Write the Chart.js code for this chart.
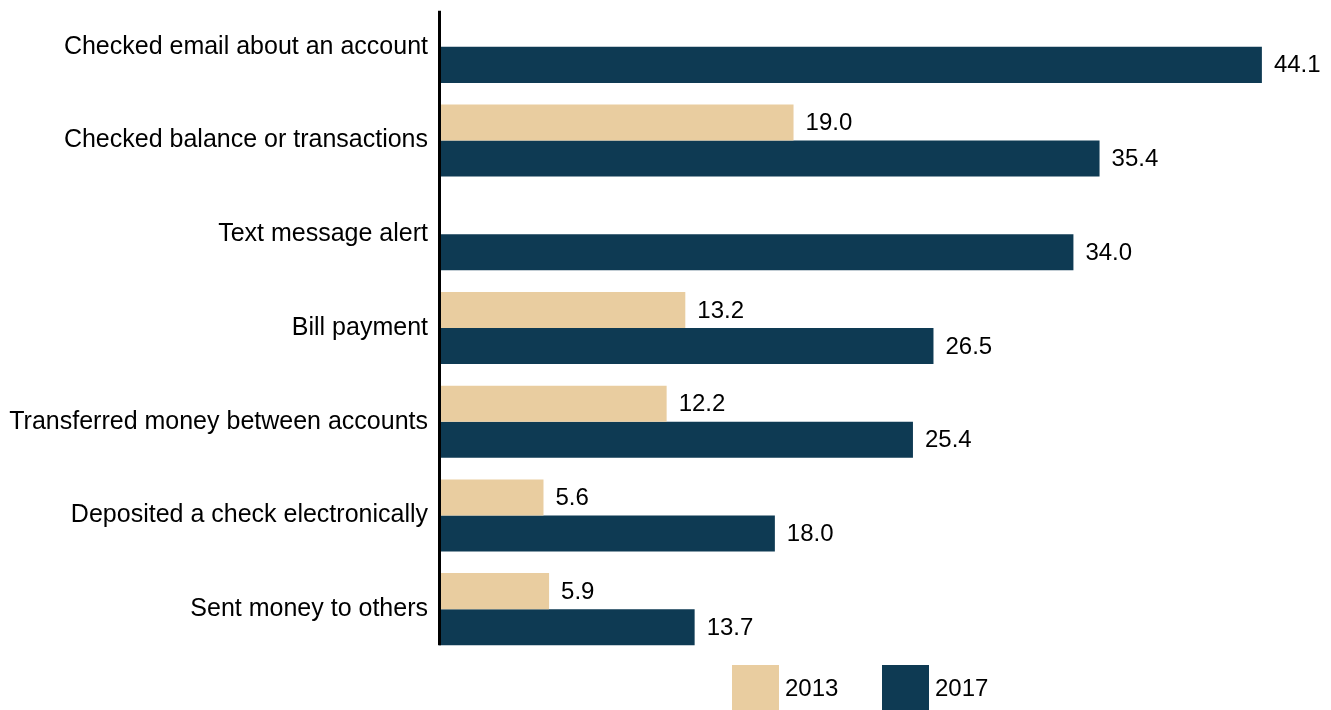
<!DOCTYPE html>
<html>
<head>
<meta charset="utf-8">
<script src="https://cdn.jsdelivr.net/npm/chart.js@4.4.0/dist/chart.umd.min.js"></script>
<style>
  html, body { margin: 0; padding: 0; background: #fff; }
  #wrap { width: 1331px; height: 710px; position: relative; }
</style>
</head>
<body>
<div id="wrap"><canvas id="grafico"></canvas></div>
<script>
// dados
const categorias = [
    'Checked email about an account',
    'Checked balance or transactions',
    'Text message alert',
    'Bill payment',
    'Transferred money between accounts',
    'Deposited a check electronically',
    'Sent money to others'
];
const anos = ['2013', '2017'];
const valores2013 = [null, 19.0, null, 13.2, 12.2, 5.6, 5.9];
const valores2017 = [44.1, 35.4, 34.0, 26.5, 25.4, 18.0, 13.7];

const FONTE = '"Liberation Sans", Arial, sans-serif';
const COR_2013 = '#E9CDA0';
const COR_2017 = '#0E3A53';

// rótulos de valor na ponta das barras
const rotulosPlugin = {
    id: 'rotulos',
    afterDatasetsDraw(chart) {
        const ctx = chart.ctx;
        ctx.save();
        ctx.font = '24px ' + FONTE;
        ctx.fillStyle = '#000';
        ctx.textAlign = 'left';
        ctx.textBaseline = 'middle';
        chart.data.datasets.forEach((ds, i) => {
            const meta = chart.getDatasetMeta(i);
            meta.data.forEach((bar, j) => {
                const v = ds.data[j];
                if (v === null || v === undefined) return;
                ctx.fillText(v.toFixed(1), bar.x + 12, bar.y + 1);
            });
        });
        ctx.restore();
    }
};

// linha vertical do eixo (só cobre a extensão das barras)
const eixoPlugin = {
    id: 'eixo',
    afterDatasetsDraw(chart) {
        const y = chart.scales.y;
        const barra = chart.getDatasetMeta(1).data[0];
        const h = barra.height;
        const topo = y.getPixelForTick(0) - h;
        const base = y.getPixelForTick(categorias.length - 1) + h;
        const ctx = chart.ctx;
        ctx.save();
        ctx.strokeStyle = '#000';
        ctx.lineWidth = 3;
        ctx.beginPath();
        ctx.moveTo(chart.chartArea.left + 0.5, topo);
        ctx.lineTo(chart.chartArea.left + 0.5, base);
        ctx.stroke();
        ctx.restore();
    }
};

// legenda desenhada à mão
const legendaPlugin = {
    id: 'legenda',
    afterDraw(chart) {
        const ctx = chart.ctx;
        ctx.save();
        ctx.font = '24px ' + FONTE;
        ctx.textAlign = 'left';
        ctx.textBaseline = 'middle';
        let x = 732;
        chart.data.datasets.forEach(ds => {
            ctx.fillStyle = ds.backgroundColor;
            ctx.fillRect(x, 665, 47, 45);
            ctx.fillStyle = '#000';
            ctx.fillText(ds.label, x + 53, 689);
            x += 150;
        });
        ctx.restore();
    }
};

new Chart(document.getElementById('grafico'), {
    type: 'bar',
    data: {
        labels: categorias,
        datasets: [
            { label: anos[0], data: valores2013, backgroundColor: COR_2013 },
            { label: anos[1], data: valores2017, backgroundColor: COR_2017 }
        ]
    },
    options: {
        indexAxis: 'y',
        responsive: true,
        maintainAspectRatio: false,
        animation: false,
        devicePixelRatio: 1,
        layout: { padding: { top: 0, right: 15, bottom: 54, left: 0 } },
        datasets: { bar: { barPercentage: 1, categoryPercentage: 0.769 } },
        plugins: { legend: { display: false }, tooltip: { enabled: false } },
        scales: {
            x: { display: false, min: 0, max: 47 },
            y: {
                afterFit(scale) {
                    scale.width = 439;
                    scale.paddingTop = 0;
                    scale.paddingBottom = 0;
                },
                grid: { display: false, drawTicks: false },
                border: { display: false },
                ticks: { color: '#000', padding: 11, font: { size: 25, family: FONTE } }
            }
        }
    },
    plugins: [rotulosPlugin, eixoPlugin, legendaPlugin]
});
</script>
</body>
</html>
